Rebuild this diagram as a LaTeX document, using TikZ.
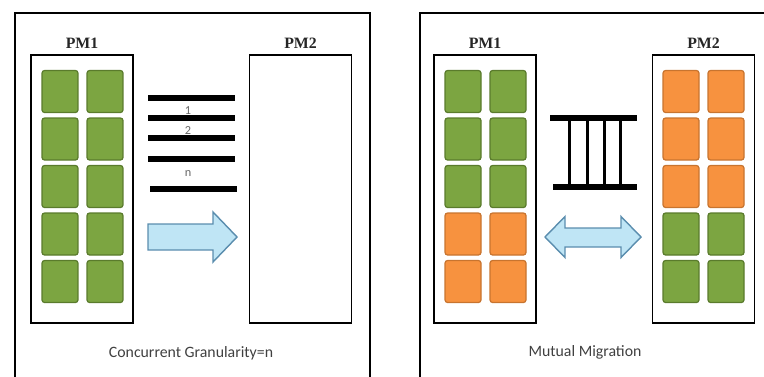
\documentclass[tikz,border=0pt]{standalone}
\usepackage{fontspec}
\setmainfont{Liberation Serif}
\newfontfamily\capfont{Carlito}
\usetikzlibrary{calc}

\definecolor{vmgreen}{HTML}{7CA541}
\definecolor{vmgreenD}{HTML}{5A7B2C}
\definecolor{vmorange}{HTML}{F7923F}
\definecolor{vmorangeD}{HTML}{C8742F}
\definecolor{arrfill}{HTML}{BFE5F5}
\definecolor{arrdraw}{HTML}{5A8DAE}

\begin{document}
\begin{tikzpicture}[x=0.02cm, y=-0.02cm,
    panel/.style={draw, line width=1.1pt},
    pmbox/.style={draw, line width=1.1pt, minimum width=2.04cm, minimum height=5.36cm, inner sep=0pt},
    vmg/.style={draw=vmgreenD, fill=vmgreen, line width=0.7pt, rounded corners=1.5pt, minimum width=0.72cm, minimum height=0.84cm, inner sep=0pt},
    vmo/.style={vmg, draw=vmorangeD, fill=vmorange},
    pmlabel/.style={font=\bfseries\small, text=black!85},
    caption/.style={font=\capfont\small, text=black!75},
    lanenum/.style={font=\capfont\scriptsize, text=black!60, inner sep=0pt},
    bar/.style={line width=0.12cm},
    rung/.style={line width=0.06cm},
    blockarr/.style={draw=arrdraw, fill=arrfill, line width=0.8pt, line join=miter}
]
\useasboundingbox (0,0) rectangle (764,376);

% left panel: concurrent granularity
\draw[panel] (15,13) rectangle (370,390);
\node[pmbox] (lpm1) at (82,189) {};
\node[pmbox] (lpm2) at (300.5,189) {};
\node[pmlabel] (lpm1l) at (82,43) {PM1};
\node[pmlabel] (lpm2l) at (300.5,43) {PM2};
\foreach \r in {1,...,5}{
  \node[vmg] (l-\r-a) at (60,{44+47.5*\r}) {};
  \node[vmg] (l-\r-b) at (105,{44+47.5*\r}) {};
}
\draw[bar] (148,98) -- (235,98);
\draw[bar] (148,118) -- (235,118);
\draw[bar] (148,138) -- (235,138);
\draw[bar] (148,159) -- (235,159);
\draw[bar] (150,189) -- (237,189);
\node[lanenum] (n1) at (188,111) {1};
\node[lanenum] (n2) at (188,131) {2};
\node[lanenum] (nn) at (188,174) {n};
\draw[blockarr] (148,224) -- (213,224) -- (213,212) -- (237,237) -- (213,262) -- (213,250) -- (148,250) -- cycle;
\node[caption] (lcap) at (191,353) {Concurrent Granularity=n};

% right panel: mutual migration
\draw[panel] (420,13) rectangle (790,390);
\node[pmbox] (rpm1) at (485,189) {};
\node[pmbox] (rpm2) at (703.5,189) {};
\node[pmlabel] (rpm1l) at (485,43) {PM1};
\node[pmlabel] (rpm2l) at (703.5,43) {PM2};
\foreach \r/\c/\d in {1/vmg/vmo,2/vmg/vmo,3/vmg/vmo,4/vmo/vmg,5/vmo/vmg}{
  \node[\c] (p-\r-a) at (463,{44+47.5*\r}) {};
  \node[\c] (p-\r-b) at (508,{44+47.5*\r}) {};
  \node[\d] (q-\r-a) at (681,{44+47.5*\r}) {};
  \node[\d] (q-\r-b) at (726,{44+47.5*\r}) {};
}
\draw[bar] (550,118) -- (637,118);
\draw[bar] (553,187) -- (637,187);
\foreach \x in {569,587,604,620}
  \draw[rung] (\x,118) -- (\x,187);
\draw[blockarr] (545,237) -- (565,216.5) -- (565,228) -- (621,228) -- (621,216.5) -- (641,237)
  -- (621,257.5) -- (621,247) -- (565,247) -- (565,257.5) -- cycle;
\node[caption] (rcap) at (585,352) {Mutual Migration};
\end{tikzpicture}
\end{document}
